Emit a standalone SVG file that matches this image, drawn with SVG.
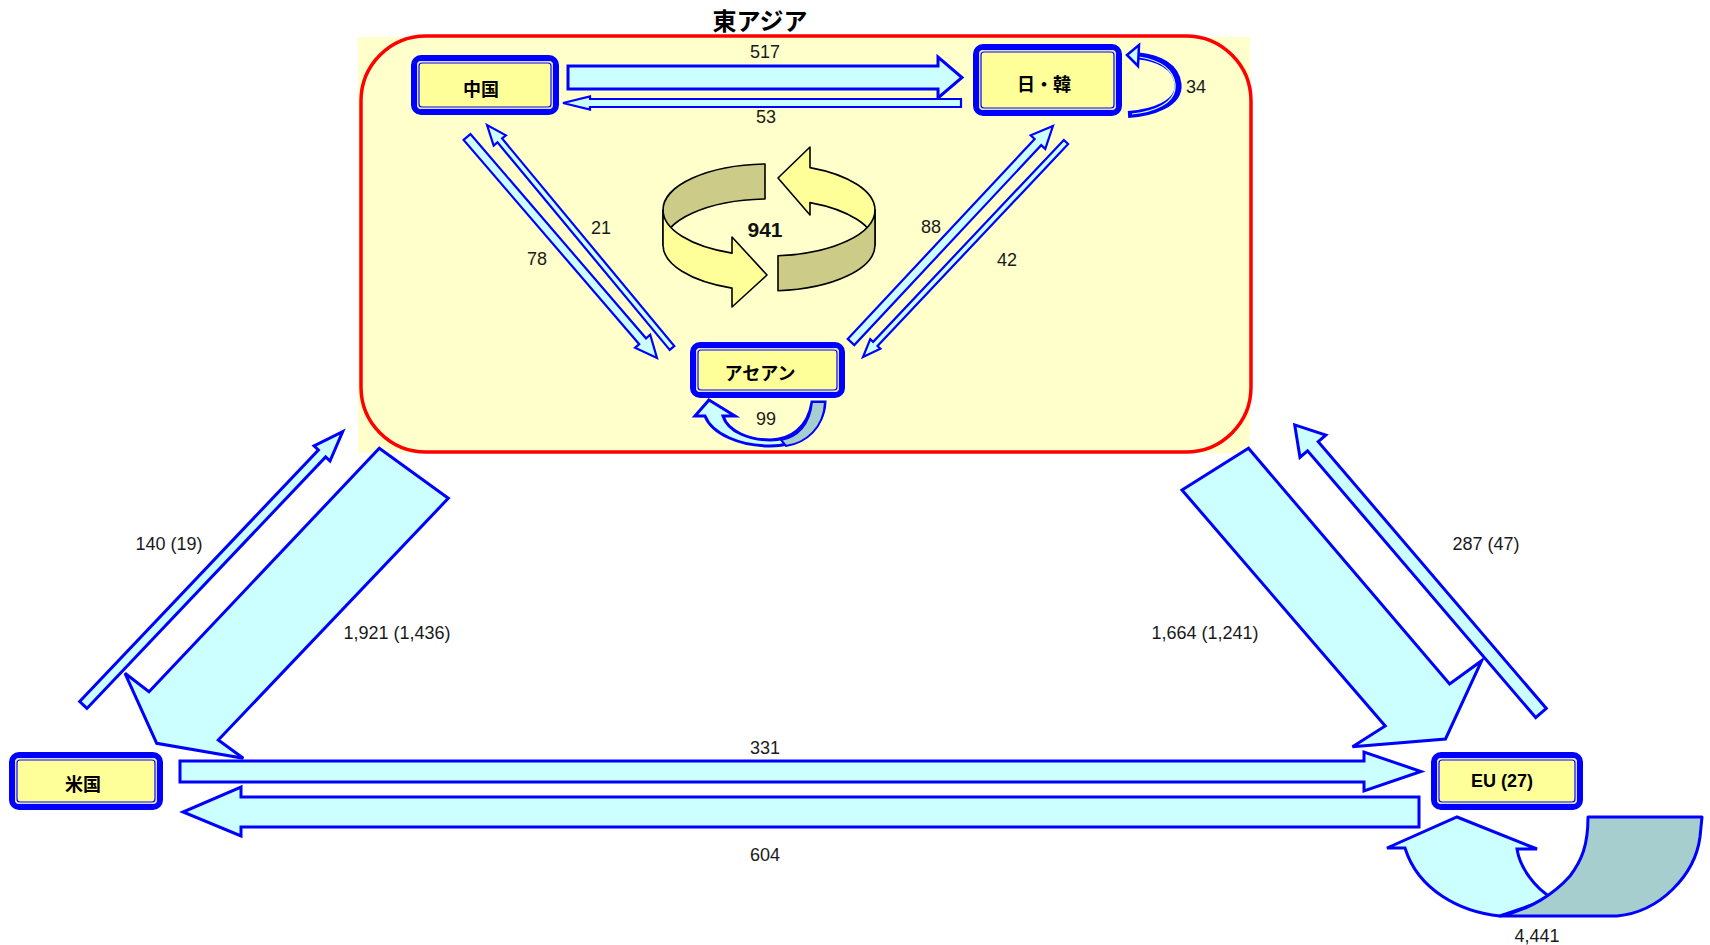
<svg xmlns="http://www.w3.org/2000/svg" width="1710" height="945" viewBox="0 0 1710 945">
<style>
.lbl{font-family:"Liberation Sans","Noto Sans CJK JP",sans-serif;font-size:18px;fill:#1a1a1a;text-anchor:middle}
.nt{font-family:"Liberation Sans","Noto Sans CJK JP",sans-serif;font-size:18px;font-weight:bold;fill:#000;text-anchor:middle}
.ar{fill:#CCFFFF;stroke:#0000FF;stroke-width:3;stroke-linejoin:miter}
.ar2{fill:#CCFFFF;stroke:#0000FF;stroke-width:2.2;stroke-linejoin:miter}
.nb{fill:#FFFF99;stroke:#0000FF;stroke-width:6}
.ni{fill:none;stroke:#0000FF;stroke-width:1.2}
.nw{fill:none;stroke:#D8D8FF;stroke-width:1}
.rg{fill:#CCCC88;stroke:#000;stroke-width:1.6;stroke-linejoin:round}
.ry{fill:#FFFF99;stroke:#000;stroke-width:1.6;stroke-linejoin:round}
</style>
<rect width="1710" height="945" fill="#FFFFFF"/>
<g id="east-asia-region">
<rect x="358" y="37" width="892" height="416" fill="#FFFFCC"/>
<rect x="361" y="36" width="890" height="416" rx="65" ry="65" fill="none" stroke="#FF0000" stroke-width="3.5"/>
<text x="760" y="30" text-anchor="middle" font-family="'Noto Sans CJK JP',sans-serif" font-size="24" font-weight="bold" fill="#000">東アジア</text>
</g>
<g id="cycle">
<path class="rg" d="M765,164 A106,46 0 0 0 663,210 L663,245 A106,46 0 0 1 765,199 Z"/>
<path class="ry" d="M778,178 L810,147 L810,167.6 A106,46 0 0 1 875,210 L875,245 A106,46 0 0 0 810,202.6 L810,215 Z"/>
<path class="ry" d="M663,210 A106,46 0 0 0 732,253.1 L732,237 L767,275 L732,307 L732,288.1 A106,46 0 0 1 663,245 Z"/>
<path class="rg" d="M778,255.8 A106,46 0 0 0 875,210 L875,245 A106,46 0 0 1 778,290.8 Z"/>
<text x="765" y="237" text-anchor="middle" font-family="'Liberation Sans',sans-serif" font-size="21" font-weight="bold" fill="#111">941</text>
</g>
<g id="connectors">
<polygon class="ar" points="568,66 938,66 938,57 962,77.5 938,98 938,89 568,89"/>
<polygon class="ar2" points="961,99 590,99 590,96.5 563,103 590,109.5 590,107 961,107"/>
<polygon class="ar2" transform="translate(467,137) rotate(49.31)" points="0,-4.5 269.4,-4.5 269.4,-10 291.4,0 269.4,10 269.4,4.5 0,4.5"/>
<polygon class="ar2" transform="translate(672,348) rotate(-129.68)" points="0,-3 269.7,-3 269.7,-8 289.7,0 269.7,8 269.7,3 0,3"/>
<polygon class="ar2" transform="translate(851,342) rotate(-46.92)" points="0,-4.5 273.7,-4.5 273.7,-10 295.7,0 273.7,10 273.7,4.5 0,4.5"/>
<polygon class="ar2" transform="translate(1066,142) rotate(133.36)" points="0,-3 277.7,-3 277.7,-7 295.7,0 277.7,7 277.7,3 0,3"/>
<polygon class="ar" transform="translate(83.3,705) rotate(-46.5)" points="0,-5 346.8,-5 346.8,-11 376.8,0 346.8,11 346.8,5 0,5"/>
<polygon class="ar" points="379.3,448.3 448.3,498.3 218.3,740 243.3,758.3 156.7,743.3 125,673.3 149,691.7"/>
<polygon class="ar" points="1182,490 1248.5,448.3 1449.6,684 1481.7,660.7 1445.5,739 1352.5,746.7 1385.2,726"/>
<polygon class="ar" transform="translate(1541,713) rotate(-130.53)" points="0,-7 351,-7 351,-17 379,0 351,17 351,7 0,7"/>
<polygon class="ar" points="180,761 1364,761 1364,752 1421,771.5 1364,791 1364,782 180,782"/>
<polygon class="ar" points="1419,797 241,797 241,787 183,812 241,836 241,827 1419,827"/>
<g id="loop-jk">
<path d="M1128,114.5 C1152,113 1180,104 1178,84 C1176,66 1158,58 1139,56" fill="none" stroke="#0000FF" stroke-width="7"/>
<path d="M1132,114 C1152,112 1177,104 1175,84 C1173,68 1158,60 1139,57" fill="none" stroke="#CCFFFF" stroke-width="1.2"/>
<polygon points="1127,55 1139,45 1138,66" fill="#CCFFFF" stroke="#0000FF" stroke-width="2.5" stroke-linejoin="miter"/>
</g>
<g id="loop-asean">
<path d="M709,400 L735,416 L723,416 C728,432 750,440 770,440 C790,440 808,428 812,402 L825,402 C824,428 800,446 770,446 C740,446 712,434 705,416 L695,416 Z" fill="#CCFFFF" stroke="#0000FF" stroke-width="3" stroke-linejoin="miter"/>
<path d="M812,402 L825,402 C824,428 806,443 786,446 L781,440 C797,437 810,425 812,402 Z" fill="#A6CECE" stroke="#0000FF" stroke-width="2"/>
</g>
<g id="loop-eu">
<path d="M1457,817 L1537,849 L1517,849 C1520,868 1535,888 1552,898 L1500,916 C1460,912 1418,890 1405,848 L1387,848 Z" fill="#CCFFFF" stroke="#0000FF" stroke-width="3" stroke-linejoin="miter"/>
<path d="M1588,817 L1702,817 L1700,837 C1695,875 1660,912 1617,916 L1500,916 C1530,910 1555,893 1570,876 C1582,860 1588,845 1588,817 Z" fill="#A6CECE" stroke="#0000FF" stroke-width="3" stroke-linejoin="round"/>
</g>
</g>
<g id="node-china">
<rect class="nb" x="414" y="58" width="142" height="54" rx="7"/>
<rect class="nw" x="417.5" y="61.5" width="135" height="47" rx="4"/>
<rect class="ni" x="419" y="63" width="132" height="44" rx="3"/>
<text class="nt" x="481" y="96">中国</text>
</g>
<g id="node-jk">
<rect class="nb" x="976" y="47" width="143" height="66" rx="7"/>
<rect class="nw" x="979.5" y="50.5" width="136" height="59" rx="4"/>
<rect class="ni" x="981" y="52" width="133" height="56" rx="3"/>
<text class="nt" x="1044" y="91">日・韓</text>
</g>
<g id="node-asean">
<rect class="nb" x="693" y="345" width="149" height="50" rx="7"/>
<rect class="nw" x="696.5" y="348.5" width="142" height="43" rx="4"/>
<rect class="ni" x="698" y="350" width="139" height="40" rx="3"/>
<text class="nt" x="760" y="380">アセアン</text>
</g>
<g id="node-us">
<rect class="nb" x="12" y="755" width="148" height="52" rx="7"/>
<rect class="nw" x="15.5" y="758.5" width="141" height="45" rx="4"/>
<rect class="ni" x="17" y="760" width="138" height="42" rx="3"/>
<text class="nt" x="83" y="791">米国</text>
</g>
<g id="node-eu">
<rect class="nb" x="1434" y="755" width="146" height="52" rx="7"/>
<rect class="nw" x="1437.5" y="758.5" width="139" height="45" rx="4"/>
<rect class="ni" x="1439" y="760" width="136" height="42" rx="3"/>
<text class="nt" x="1502" y="787">EU (27)</text>
</g>
<g id="labels">
<text class="lbl" x="765" y="57.5">517</text>
<text class="lbl" x="766" y="122.5">53</text>
<text class="lbl" x="1196" y="93">34</text>
<text class="lbl" x="601" y="234">21</text>
<text class="lbl" x="537" y="265">78</text>
<text class="lbl" x="931" y="233">88</text>
<text class="lbl" x="1007" y="265.5">42</text>
<text class="lbl" x="766" y="425">99</text>
<text class="lbl" x="169" y="550">140 (19)</text>
<text class="lbl" x="397" y="639">1,921 (1,436)</text>
<text class="lbl" x="1486" y="550">287 (47)</text>
<text class="lbl" x="1205" y="639">1,664 (1,241)</text>
<text class="lbl" x="765" y="753.5">331</text>
<text class="lbl" x="765" y="860.5">604</text>
<text class="lbl" x="1537" y="942">4,441</text>
</g>
</svg>
